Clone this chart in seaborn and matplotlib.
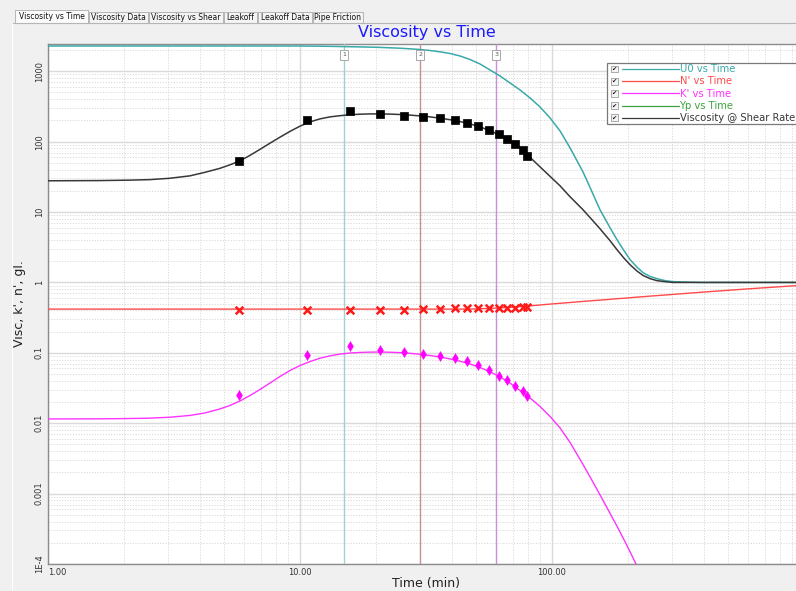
import numpy as np
import pandas as pd
import matplotlib
matplotlib.use("Agg")
import matplotlib.pyplot as plt
import matplotlib.ticker as mticker
from matplotlib.patches import Rectangle
from matplotlib.lines import Line2D
import seaborn as sns

# ---- measured points -------------------------------------------------------
time_pts = [5.73, 10.7, 15.8, 20.8, 25.9, 30.9, 35.9, 41.2, 46.0, 51.0,
            56.4, 61.6, 66.5, 71.5, 76.5, 79.6]
visc_pts = [53.4, 202, 276, 251, 234, 227, 218, 206, 187, 168,
            146, 128, 110, 94, 76, 63]
n_pts = [0.405, 0.405, 0.405, 0.405, 0.405, 0.418, 0.418, 0.428, 0.428, 0.428,
         0.428, 0.428, 0.428, 0.428, 0.442, 0.45]
k_pts = [0.0248, 0.0925, 0.124, 0.110, 0.102, 0.0977, 0.0916, 0.0849, 0.0770,
         0.0661, 0.0567, 0.0476, 0.0405, 0.0340, 0.0285, 0.0242]

# ---- model curves (sampled in time) ----------------------------------------
time_curve = [1.0, 1.608, 2.116, 2.540, 3.049, 3.660, 4.198, 4.814, 5.275, 5.781,
              6.334, 6.940, 7.603, 8.330, 9.127, 10.0, 10.96, 12.00, 13.15, 14.41,
              15.79, 17.30, 18.96, 20.77, 22.76, 24.94, 27.32, 29.94, 32.81, 35.94,
              39.38, 43.15, 47.28, 51.80, 56.75, 62.19, 68.13, 74.65, 81.80, 89.63,
              98.19, 107.6, 117.9, 132.7, 144.1, 155.0, 169.9, 181.1, 193.1, 204.0,
              217.5, 229.7, 244.9, 261.0, 280.8, 302.1, 386.6, 610.6, 1000]
u0_curve = [2285, 2285, 2285, 2285, 2285, 2285, 2285, 2285, 2285, 2285,
            2285, 2285, 2285, 2285, 2285, 2285, 2277, 2270, 2262, 2248,
            2233, 2218, 2204, 2183, 2154, 2126, 2085, 2038, 1972, 1890,
            1789, 1648, 1470, 1269, 1043, 857.7, 682.3, 542.9, 418.1, 311.5,
            217.6, 142.3, 81.7, 37.3, 19.4, 10.8, 5.99, 4.05, 2.83, 2.11,
            1.648, 1.377, 1.216, 1.132, 1.061, 1.026, 1.0, 1.0, 1.0]
n_curve = [0.418, 0.418, 0.418, 0.418, 0.418, 0.418, 0.418, 0.418, 0.418, 0.418,
           0.418, 0.418, 0.418, 0.418, 0.418, 0.418, 0.418, 0.418, 0.418, 0.418,
           0.418, 0.418, 0.418, 0.418, 0.418, 0.418, 0.418, 0.418, 0.418, 0.418,
           0.418, 0.418, 0.418, 0.4236, 0.4278, 0.4348, 0.4434, 0.4536, 0.4656, 0.4779,
           0.4923, 0.5053, 0.5187, 0.5376, 0.5500, 0.5609, 0.5757, 0.5871, 0.5968, 0.6067,
           0.6187, 0.6268, 0.6392, 0.6498, 0.6627, 0.6758, 0.7238, 0.8140, 0.9156]
k_curve = [0.01151, 0.01154, 0.01166, 0.01181, 0.01217, 0.01290, 0.01400, 0.01595, 0.01789, 0.02071,
           0.02479, 0.03016, 0.03728, 0.04612, 0.05610, 0.06606, 0.07524, 0.08382, 0.09066, 0.09585,
           0.09936, 0.1013, 0.1023, 0.1026, 0.1020, 0.1006, 0.09838, 0.09521, 0.09156, 0.08716,
           0.08193, 0.07600, 0.06937, 0.06185, 0.05377, 0.04553, 0.03728, 0.02918, 0.02285, 0.01731,
           0.01249, 0.00858, 0.00534, 0.002603, 0.001544, 0.000962, 0.000526, 0.000344, 0.000221,
           0.0001494, 0.0000931, 0.0000629, 0.0000411, 0.0000269, 0.0000165, 0.0000101,
           1.97e-6, 8.9e-8, 3.4e-9]
visc_curve = [27.8, 28.0, 28.4, 28.9, 30.2, 32.7, 36.7, 41.8, 46.9, 53.4,
              63.9, 77.8, 95.2, 115.8, 140.0, 166.0, 190.9, 210.6, 224.9, 233.8,
              241.5, 245.5, 247.9, 247.9, 246.3, 243.1, 238.4, 232.3, 224.9, 215.4,
              205.2, 192.8, 178.8, 162.2, 143.2, 122.9, 101.7, 80.4, 59.9, 43.9,
              32.2, 23.6, 16.5, 10.8, 7.78, 5.80, 3.92, 2.92, 2.21, 1.79,
              1.45, 1.257, 1.132, 1.061, 1.026, 1.0, 1.0, 1.0, 1.0]

marker_times = [15, 30, 60]
marker_labels = ["1", "2", "3"]
tab_names = ["Viscosity vs Time", "Viscosity Data", "Viscosity vs Shear",
             "Leakoff", "Leakoff Data", "Pipe Friction"]
legend_names = ["U0 vs Time", "N' vs Time", "K' vs Time", "Yp vs Time",
                "Viscosity @ Shear Rate"]

# ---- colours ---------------------------------------------------------------
C_U0 = "#3aa9a9"
C_N = "#ff4a4a"
C_K = "#ff33ff"
C_YP = "#3da33d"
C_VISC = "#383838"
legend_colors = [C_U0, C_N, C_K, C_YP, C_VISC]
marker_colors = ["#9fd3d3", "#c99090", "#c98fd6"]

sns.set_style("white")
plt.rcParams["font.family"] = ["DejaVu Sans"]

W, H = 796, 591
fig = plt.figure(figsize=(W / 100, H / 100), dpi=100, facecolor="#f0f0f0")

# plot area in pixels: x 48..804, y 44..564
ax = fig.add_axes([48 / W, 1 - 564 / H, 756 / W, 520 / H])
ax.set_facecolor("white")
ax.set_xscale("log")
ax.set_yscale("log")

sns.lineplot(x=time_curve, y=u0_curve, ax=ax, color=C_U0, lw=1.1, estimator=None, zorder=4)
sns.lineplot(x=time_curve, y=n_curve, ax=ax, color=C_N, lw=1.0, estimator=None, zorder=4)
sns.lineplot(x=time_curve, y=k_curve, ax=ax, color=C_K, lw=1.0, estimator=None, zorder=4)
sns.lineplot(x=time_curve, y=visc_curve, ax=ax, color=C_VISC, lw=1.1, estimator=None, zorder=4)

sns.scatterplot(x=time_pts, y=visc_pts, ax=ax, marker="s", s=30, color="black",
                edgecolor="black", linewidth=0.5, zorder=5)
sns.scatterplot(x=time_pts, y=n_pts, ax=ax, marker="x", s=30, color="#ff1a1a",
                linewidth=1.8, zorder=5)
sns.scatterplot(x=time_pts, y=k_pts, ax=ax, marker="d", s=26, color="#ff00ff",
                edgecolor="#ff00ff", linewidth=0.3, zorder=5)

for t, c, lab in zip(marker_times, marker_colors, marker_labels):
    ax.axvline(t, color=c, lw=1.0, zorder=3)
    ax.text(t, 0.979, lab, transform=ax.get_xaxis_transform(), ha="center", va="center",
            fontsize=4.5, color="#555555", zorder=6,
            bbox=dict(boxstyle="square,pad=0.35", fc="white", ec="#9a9a9a", lw=0.6))

ax.set_xlim(1, 1000)
ax.set_ylim(1e-4, 2440)

ax.xaxis.set_major_locator(mticker.FixedLocator([1, 10, 100, 1000]))
ax.xaxis.set_major_formatter(mticker.FixedFormatter(["1.00", "10.00", "100.00", ""]))
ax.xaxis.set_minor_locator(mticker.LogLocator(base=10, subs=np.arange(2, 10)))
ax.xaxis.set_minor_formatter(mticker.NullFormatter())
ax.yaxis.set_major_locator(mticker.FixedLocator([1e-4, 1e-3, 1e-2, 1e-1, 1, 10, 100, 1000]))
ax.yaxis.set_major_formatter(mticker.FixedFormatter(
    ["1E-4", "0.001", "0.01", "0.1", "1", "10", "100", "1000"]))
ax.yaxis.set_minor_locator(mticker.LogLocator(base=10, subs=np.arange(2, 10)))
ax.yaxis.set_minor_formatter(mticker.NullFormatter())

ax.tick_params(which="both", length=0)
ax.tick_params(axis="x", labelsize=6, pad=3, colors="#333333")
ax.tick_params(axis="y", labelsize=6, pad=3, colors="#333333")
for lab in ax.get_yticklabels():
    lab.set_rotation(90)
    lab.set_va("center")
xl = ax.get_xticklabels()
xl[0].set_ha("left")

ax.grid(which="major", color="#dadada", lw=1.0, ls="-", zorder=0)
ax.grid(which="minor", color="#d9d9d9", lw=0.7, ls=(0, (1.2, 1.6)), zorder=0)
ax.set_axisbelow(True)

for side in ["left", "bottom", "top"]:
    ax.spines[side].set_color("#8c8c8c")
    ax.spines[side].set_linewidth(1.0)
ax.spines["right"].set_visible(False)

ax.set_xlabel("Time (min)", fontsize=9, color="#222222", labelpad=0)
ax.set_ylabel("Visc, k', n', gl.", fontsize=9, color="#222222", labelpad=6)

# ---- overlay in pixel coordinates: title, tabs, legend ---------------------
ov = fig.add_axes([0, 0, 1, 1], zorder=10)
ov.set_xlim(0, W)
ov.set_ylim(H, 0)
ov.axis("off")
ov.patch.set_alpha(0)

ov.text(427, 33, "Viscosity vs Time", color="#1a1aff", fontsize=11.5,
        ha="center", va="center")

# tab strip
ov.plot([12, W], [22.5, 22.5], color="#b5b5b5", lw=0.8)
ov.plot([12, 12], [22.5, H], color="#ffffff", lw=0.8)
tab_edges = [15, 89, 149, 224, 258, 313, 364]
for i, name in enumerate(tab_names):
    x0, x1 = tab_edges[i], tab_edges[i + 1] - 1
    top = 10 if i == 0 else 12
    ov.add_patch(Rectangle((x0, top), x1 - x0, 22.5 - top, fc="#fbfbfb" if i == 0 else "#f4f4f4",
                           ec="#ababab", lw=0.6))
    ov.text((x0 + x1) / 2, 17.3 if i else 16.5, name, fontsize=5.5, ha="center", va="center",
            color="#111111")

# legend box
ov.add_patch(Rectangle((607, 62.5), 200, 61, fc="white", ec="#7a7a7a", lw=0.9))
rows = [69, 81.2, 93.3, 105.6, 117.6]
for y, name, c in zip(rows, legend_names, legend_colors):
    ov.add_patch(Rectangle((610.5, y - 3.4), 7, 6.8, fc="#f4f4f4", ec="#8a8a8a", lw=0.5))
    ov.text(614, y + 0.3, "\u2714", fontsize=4.5, ha="center", va="center", color="#111111")
    ov.add_line(Line2D([622, 678.5], [y, y], color=c, lw=0.9))
    ov.text(679.5, y + 0.3, name, fontsize=7.2, ha="left", va="center", color=c)

fig.savefig("out.png", dpi=100, facecolor=fig.get_facecolor())
